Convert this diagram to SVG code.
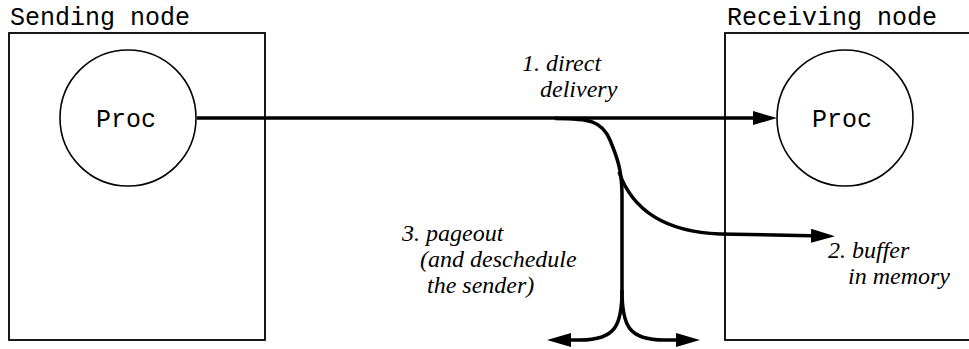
<svg xmlns="http://www.w3.org/2000/svg" width="969" height="349" viewBox="0 0 969 349">
<style>
.box{fill:none;stroke:#000;stroke-width:1.8}
.proc{fill:#fff;stroke:#000;stroke-width:1.6}
.mono{font-family:"Liberation Mono","Courier New",monospace;font-size:25px;fill:#000}
.lbl{font-family:"Liberation Serif","Times New Roman",serif;font-style:italic;font-size:24px;fill:#000}
.flow{fill:none;stroke:#000;stroke-width:3.5;stroke-linecap:butt}
</style>
<defs>
<marker id="ah" viewBox="0 0 24 14" refX="12" refY="7" markerWidth="24" markerHeight="14" markerUnits="userSpaceOnUse" orient="auto">
<path d="M0,0 L24,7 L0,14 z" fill="#000"/>
</marker>
</defs>
<g id="sending-node">
<rect class="box" x="9" y="33" width="256" height="307"/>
<text class="mono" x="10" y="25">Sending node</text>
</g>
<g id="receiving-node">
<rect class="box" x="725" y="33" width="260" height="307"/>
<text class="mono" x="727" y="25">Receiving node</text>
</g>
<g id="connectors">
<path class="flow" d="M197,118 L765,118" marker-end="url(#ah)"/>
<path class="flow" d="M555,118.5 C590,118.5 602,121 610,140 C617,157 622,170 622,195 L622,290 C622,325 616,340 580,340 L559,340" marker-end="url(#ah)"/>
<path class="flow" d="M622,290 C622,325 628,340 664,340 L688,340" marker-end="url(#ah)"/>
<path class="flow" d="M619,172 C633,212 668,232 720,234 L823,236" marker-end="url(#ah)"/>
</g>
<g id="proc-send">
<circle class="proc" cx="128" cy="118" r="68"/>
<text class="mono" x="126" y="127" text-anchor="middle">Proc</text>
</g>
<g id="proc-recv">
<circle class="proc" cx="845" cy="118" r="68"/>
<text class="mono" x="842" y="127" text-anchor="middle">Proc</text>
</g>
<g id="labels">
<text class="lbl" x="522" y="71">1. direct</text>
<text class="lbl" x="540" y="97">delivery</text>
<text class="lbl" x="828" y="258">2. buffer</text>
<text class="lbl" x="848" y="284">in memory</text>
<text class="lbl" x="402" y="241">3. pageout</text>
<text class="lbl" x="420" y="267">(and deschedule</text>
<text class="lbl" x="427" y="293">the sender)</text>
</g>
</svg>
